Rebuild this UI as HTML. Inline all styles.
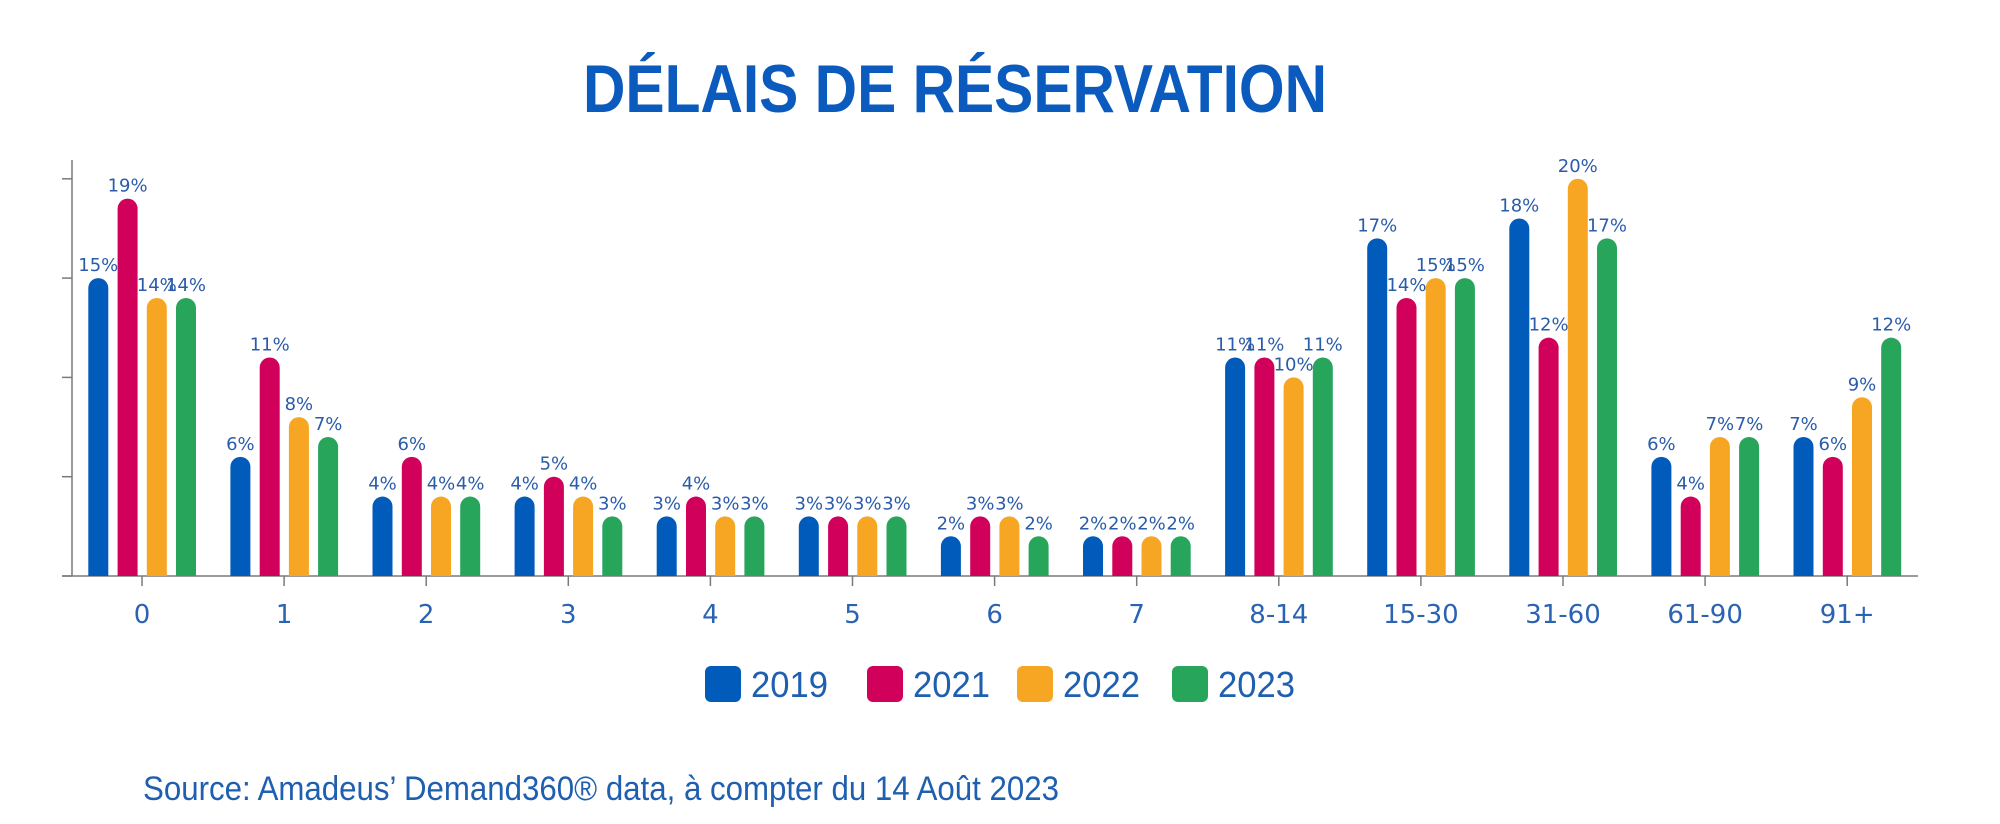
<!DOCTYPE html>
<html><head><meta charset="utf-8"><style>
html,body{margin:0;padding:0;background:#fff;}
svg{display:block;font-family:"Liberation Sans","DejaVu Sans",sans-serif;}
</style></head><body>
<svg id="chart" width="2000" height="824" viewBox="0 0 2000 824" xmlns="http://www.w3.org/2000/svg">
<text x="955" y="112" text-anchor="middle" font-size="68" font-weight="bold" fill="#0a5bbd" textLength="744" lengthAdjust="spacingAndGlyphs">DÉLAIS DE RÉSERVATION</text>
<g id="axes"></g>
<g id="bars"></g>
<g id="legend"></g>
<text x="143" y="800" font-size="34" fill="#1f5fb0" textLength="916" lengthAdjust="spacingAndGlyphs">Source: Amadeus’ Demand360® data, à compter du 14 Août 2023</text>
</svg>
<script>
const categories = ["0","1","2","3","4","5","6","7","8-14","15-30","31-60","61-90","91+"];
const seriesNames = ["2019","2021","2022","2023"];
const s2019 = [15,6,4,4,3,3,2,2,11,17,18,6,7];
const s2021 = [19,11,6,5,4,3,3,2,11,14,12,4,6];
const s2022 = [14,8,4,4,3,3,3,2,10,15,20,7,9];
const s2023 = [14,7,4,3,3,3,2,2,11,15,17,7,12];
const yTicks = [0,5,10,15,20];

const series = [s2019,s2021,s2022,s2023];
const colors = ["#005bbb","#d1005a","#f6a623","#27a55b"];
const NS = "http://www.w3.org/2000/svg";
const y0 = 576, pxPer = 19.86;
const yScale = v => y0 - v*pxPer;
const xCenter = i => 142 + 142.1*i;
const barOff = [-43.7,-14.4,14.8,44];
const bw = 20;
function mk(tag, attrs, parent){const e=document.createElementNS(NS,tag);for(const k in attrs)e.setAttribute(k,attrs[k]);parent.appendChild(e);return e;}

const axes = document.getElementById('axes');
let yl = mk('line',{x1:72,y1:160,x2:72,y2:y0,stroke:'#7a7a7a','stroke-width':1.5},axes);


let xl = mk('line',{x1:62,y1:y0,x2:1918,y2:y0,stroke:'#7a7a7a','stroke-width':1.5},axes);


yTicks.forEach(t=>{
  const l = mk('line',{x1:62,y1:yScale(t),x2:72,y2:yScale(t),stroke:'#7a7a7a','stroke-width':1.5},axes);
  
  
});
categories.forEach((c,i)=>{
  const x = xCenter(i);
  const l = mk('line',{x1:x,y1:y0,x2:x,y2:y0+10,stroke:'#7a7a7a','stroke-width':1.5},axes);
  
  
  const t = mk('text',{x:x,y:623,'text-anchor':'middle','font-size':26,'font-family':'DejaVu Sans, sans-serif',fill:'#2a62b4'},axes);
  t.textContent = c;
  
  
});

const bars = document.getElementById('bars');
series.forEach((s,si)=>{
  s.forEach((v,i)=>{
    const cx = xCenter(i)+barOff[si];
    const top = yScale(v);
    const r = bw/2;
    const d = `M${cx-r},${y0} L${cx-r},${top+r} A${r},${r} 0 0 1 ${cx+r},${top+r} L${cx+r},${y0} Z`;
    const p = mk('path',{d:d,fill:colors[si]},bars);
    
    
    const t = mk('text',{x:cx,y:top-7,'text-anchor':'middle','font-size':18,'font-family':'DejaVu Sans, sans-serif',fill:'#2a5caa'},bars);
    t.textContent = v+'%';
    
    
  });
});

const legend = document.getElementById('legend');
const legX = [705,867,1017,1172];
seriesNames.forEach((n,si)=>{
  const g = mk('g',{},legend);
  
  
  mk('rect',{x:legX[si],y:666,width:36,height:36,rx:6,fill:colors[si]},g);
  const t = mk('text',{x:legX[si]+46,y:697,'font-size':36,fill:'#1f5fb0',textLength:77,lengthAdjust:'spacingAndGlyphs'},g);
  t.textContent = n;
});
</script>
</body></html>
